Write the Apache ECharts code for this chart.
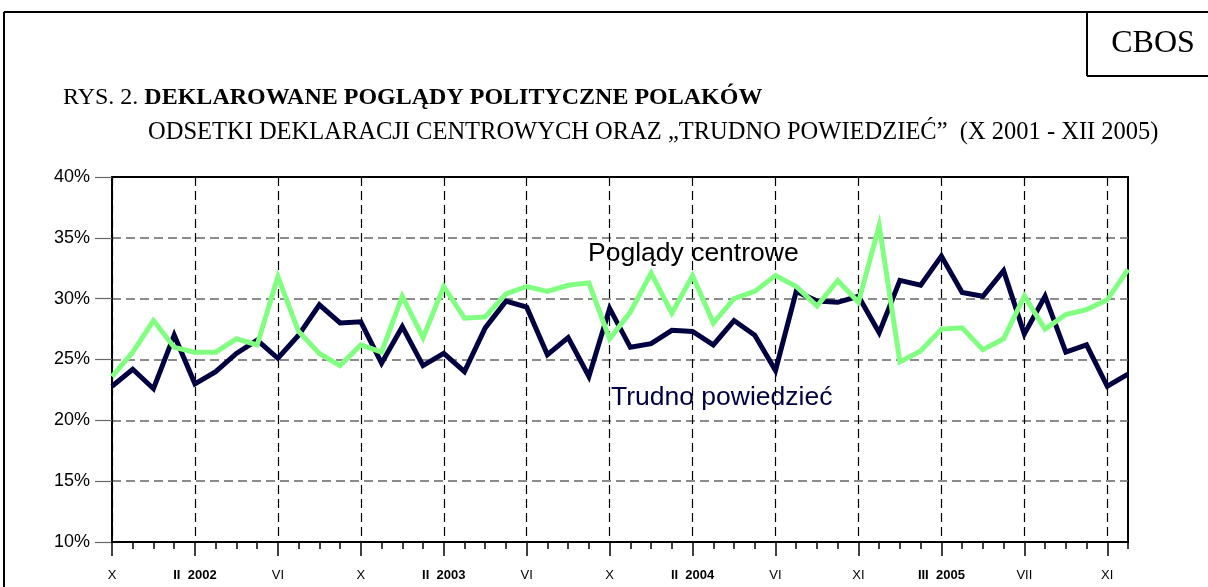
<!DOCTYPE html>
<html>
<head>
<meta charset="utf-8">
<title>Deklarowane poglądy polityczne Polaków</title>
<script src="https://cdn.jsdelivr.net/npm/echarts@6/dist/echarts.min.js"></script>
<style>
  html, body { margin: 0; padding: 0; background: #fff; }
  #chart { width: 1208px; height: 587px; }
</style>
</head>
<body>
<div id="chart"></div>
<script>
// miesiace badan X 2001 - XII 2005 (brak VIII 2004)
const months = [
  'X', 'XI', 'XII',
  'I', 'II 2002', 'III', 'IV', 'V', 'VI', 'VII', 'VIII', 'IX', 'X', 'XI', 'XII',
  'I', 'II 2003', 'III', 'IV', 'V', 'VI', 'VII', 'VIII', 'IX', 'X', 'XI', 'XII',
  'I', 'II 2004', 'III', 'IV', 'V', 'VI', 'VII', 'IX', 'X', 'XI', 'XII',
  'I', 'II', 'III 2005', 'IV', 'V', 'VI', 'VII', 'VIII', 'IX', 'X', 'XI', 'XII'
];

const centrowe = [
  23.6, 25.6, 28.2, 26.0, 25.6, 25.6, 26.7, 26.2, 31.8, 27.3,
  25.5, 24.5, 26.2, 25.6, 30.2, 26.8, 31.0, 28.4, 28.5, 30.4,
  31.0, 30.6, 31.1, 31.3, 26.7, 28.9, 32.1, 28.8, 31.9, 28.0,
  30.0, 30.6, 31.9, 31.0, 29.4, 31.5, 29.7, 36.0, 24.8, 25.7,
  27.5, 27.6, 25.8, 26.7, 30.2, 27.5, 28.7, 29.1, 29.9, 32.4
];

const trudno = [
  22.8, 24.2, 22.6, 27.0, 23.0, 24.0, 25.5, 26.6, 25.1, 27.0,
  29.5, 28.0, 28.1, 24.7, 27.7, 24.5, 25.5, 24.0, 27.6, 29.8,
  29.3, 25.4, 26.8, 23.6, 29.2, 26.0, 26.3, 27.4, 27.3, 26.2,
  28.2, 27.0, 24.1, 30.6, 29.8, 29.7, 30.2, 27.2, 31.5, 31.1,
  33.5, 30.5, 30.2, 32.3, 27.1, 30.2, 25.6, 26.2, 22.8, 23.8
];

const yTicks = { min: 10, max: 40, step: 5 };

const serif = '"Liberation Serif", "Times New Roman", serif';
const sans = '"Liberation Sans", Arial, sans-serif';
const navy = '#000040';
const green = '#80ff80';

const chart = echarts.init(document.getElementById('chart'));

const option = {
  animation: false,
  backgroundColor: '#fff',
  grid: {
    left: 112,
    right: 80,
    top: 177,
    bottom: 45,
    show: true,
    borderColor: '#000',
    borderWidth: 2,
    backgroundColor: 'transparent'
  },
  xAxis: [
    {
      type: 'category',
      data: months,
      boundaryGap: false,
      axisLine: { lineStyle: { color: '#000', width: 2 } },
      axisTick: { interval: 0, length: 7, lineStyle: { color: '#000', width: 1.5 } },
      axisLabel: {
        interval: 3,
        margin: 27,
        color: '#000',
        fontFamily: sans,
        fontSize: 13,
        formatter: (v) => v.indexOf(' ') > 0 ? '{b|' + v.replace(' ', '  ') + '}' : v,
        rich: { b: { fontWeight: 'bold', fontFamily: sans, fontSize: 13, color: '#000' } }
      },
      splitLine: {
        show: true,
        interval: 3,
        lineStyle: { color: '#000', width: 1.2, type: [9, 5] }
      }
    },
    {
      type: 'category',
      data: months,
      boundaryGap: false,
      position: 'bottom',
      axisLine: { show: false },
      axisLabel: { show: false },
      axisTick: { interval: 3, length: 14, lineStyle: { color: '#000', width: 1.5 } },
      splitLine: { show: false }
    }
  ],
  yAxis: {
    type: 'value',
    min: yTicks.min,
    max: yTicks.max,
    interval: yTicks.step,
    axisLine: { show: true, lineStyle: { color: '#000', width: 2 } },
    axisTick: { show: true, length: 17, lineStyle: { color: '#666', width: 1.2 } },
    axisLabel: {
      margin: 22,
      color: '#000',
      fontFamily: sans,
      fontSize: 18,
      formatter: '{value}%'
    },
    splitLine: {
      show: true,
      showMaxLine: false,
      lineStyle: { color: '#666', width: 1.5, type: [9, 5] }
    }
  },
  series: [
    {
      name: 'Trudno powiedzieć',
      type: 'line',
      data: trudno,
      symbol: 'none',
      lineStyle: { color: navy, width: 5, join: 'miter' },
      z: 3
    },
    {
      name: 'Poglądy centrowe',
      type: 'line',
      data: centrowe,
      symbol: 'none',
      lineStyle: { color: green, width: 5, join: 'miter' },
      z: 4
    }
  ],
  graphic: [
    // ramka strony
    { type: 'line', shape: { x1: 4, y1: 12, x2: 1208, y2: 12 }, style: { stroke: '#000', lineWidth: 2 } },
    { type: 'line', shape: { x1: 4, y1: 12, x2: 4, y2: 587 }, style: { stroke: '#000', lineWidth: 2 } },
    // pole CBOS
    { type: 'line', shape: { x1: 1087, y1: 12, x2: 1087, y2: 76 }, style: { stroke: '#000', lineWidth: 2 } },
    { type: 'line', shape: { x1: 1087, y1: 76, x2: 1208, y2: 76 }, style: { stroke: '#000', lineWidth: 2 } },
    {
      type: 'text', x: 1153, y: 44,
      style: { text: 'CBOS', fill: '#000', font: '32px ' + serif, align: 'center', verticalAlign: 'middle' }
    },
    {
      type: 'text', x: 63, y: 98,
      style: {
        text: '{n|RYS. 2. }{b|DEKLAROWANE POGLĄDY POLITYCZNE POLAKÓW}',
        verticalAlign: 'middle',
        rich: {
          n: { fontFamily: serif, fontSize: 24, fill: '#000' },
          b: { fontFamily: serif, fontSize: 24, fontWeight: 'bold', fill: '#000' }
        }
      }
    },
    {
      type: 'text', x: 148, y: 133,
      style: {
        text: 'ODSETKI DEKLARACJI CENTROWYCH ORAZ „TRUDNO POWIEDZIEĆ”  (X 2001 - XII 2005)',
        fill: '#000', font: '24.5px ' + serif, verticalAlign: 'middle'
      }
    },
    // podpisy serii
    {
      type: 'text', x: 588, y: 254, z: 10,
      style: { text: 'Poglądy centrowe', fill: '#000', font: '26.5px ' + sans, verticalAlign: 'middle' }
    },
    {
      type: 'text', x: 611, y: 398, z: 10,
      style: { text: 'Trudno powiedzieć', fill: navy, font: '26.5px ' + sans, verticalAlign: 'middle' }
    }
  ]
};

chart.setOption(option);
</script>
</body>
</html>
